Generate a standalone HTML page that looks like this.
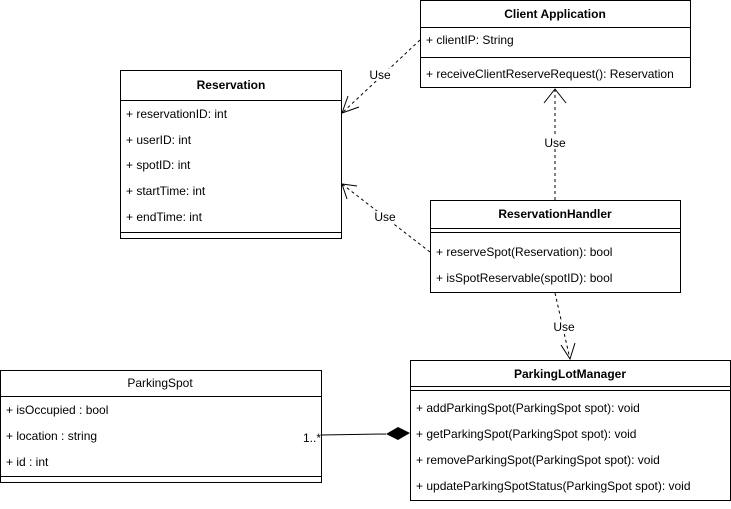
<!DOCTYPE html>
<html><head><style>
body{margin:0;background:#fff}
svg text{font-family:"Liberation Sans",Arial,sans-serif;font-size:12px;fill:#000}
</style></head><body>
<svg width="731" height="504" xmlns="http://www.w3.org/2000/svg">
<g fill="#fff" stroke="#000" stroke-width="1">
<rect x="420.5" y="0.5" width="270" height="87"/>
<line x1="420" y1="27.5" x2="691" y2="27.5"/>
<line x1="420" y1="57.5" x2="691" y2="57.5"/>
<rect x="120.5" y="70.5" width="221" height="168"/>
<line x1="120" y1="100.5" x2="342" y2="100.5"/>
<line x1="120" y1="232.5" x2="342" y2="232.5"/>
<rect x="430.5" y="200.5" width="250" height="92"/>
<line x1="430" y1="228.5" x2="681" y2="228.5"/>
<line x1="430" y1="232.5" x2="681" y2="232.5"/>
<rect x="0.5" y="370.5" width="321" height="112"/>
<line x1="0" y1="396.5" x2="322" y2="396.5"/>
<line x1="0" y1="476.5" x2="322" y2="476.5"/>
<rect x="410.5" y="360.5" width="320" height="140"/>
<line x1="410" y1="386.5" x2="731" y2="386.5"/>
<line x1="410" y1="390.5" x2="731" y2="390.5"/>
</g>
<g fill="none" stroke="#000" stroke-dasharray="3,3">
<line x1="420" y1="40" x2="342" y2="113"/>
<line x1="430" y1="252" x2="342" y2="184"/>
<line x1="555" y1="200" x2="555" y2="89"/>
<line x1="555" y1="293" x2="570" y2="359"/>
</g>
<g fill="none" stroke="#000">
<polyline points="348,96 342,113 359,107"/>
<polyline points="347,199 342,184 357,186"/>
<polyline points="544,103 555,89 566,103"/>
<polyline points="561,345 570,359 575,343"/>
<line x1="321" y1="435" x2="386" y2="434"/>
</g>
<polygon points="386,434 398,427 410,433 398,440" fill="#000"/>
<g text-anchor="middle">
<text x="555" y="18" font-weight="bold">Client Application</text>
<text x="231" y="89" font-weight="bold">Reservation</text>
<text x="555" y="218" font-weight="bold">ReservationHandler</text>
<text x="570" y="378" font-weight="bold">ParkingLotManager</text>
</g>
<text x="160" y="387" text-anchor="middle">ParkingSpot</text>
<text x="426" y="44">+ clientIP: String</text>
<text x="426" y="78">+ receiveClientReserveRequest(): Reservation</text>
<text x="126" y="118">+ reservationID: int</text>
<text x="126" y="144">+ userID: int</text>
<text x="126" y="169">+ spotID: int</text>
<text x="126" y="195">+ startTime: int</text>
<text x="126" y="221">+ endTime: int</text>
<text x="436" y="256">+ reserveSpot(Reservation): bool</text>
<text x="436" y="282">+ isSpotReservable(spotID): bool</text>
<text x="6" y="414">+ isOccupied : bool</text>
<text x="6" y="440">+ location : string</text>
<text x="6" y="466">+ id : int</text>
<text x="416" y="412">+ addParkingSpot(ParkingSpot spot): void</text>
<text x="416" y="438">+ getParkingSpot(ParkingSpot spot): void</text>
<text x="416" y="464">+ removeParkingSpot(ParkingSpot spot): void</text>
<text x="416" y="490">+ updateParkingSpotStatus(ParkingSpot spot): void</text>
<g text-anchor="middle">
<rect x="368" y="69" width="24" height="12" fill="#fff"/>
<text x="380" y="79" font-size="11">Use</text>
<rect x="373" y="211" width="24" height="12" fill="#fff"/>
<text x="385" y="221" font-size="11">Use</text>
<rect x="543" y="137" width="24" height="12" fill="#fff"/>
<text x="555" y="147" font-size="11">Use</text>
<rect x="552" y="321" width="24" height="12" fill="#fff"/>
<text x="564" y="331" font-size="11">Use</text>
</g>
<text x="303" y="442" font-size="10">1..*</text>
</svg>
</body></html>
